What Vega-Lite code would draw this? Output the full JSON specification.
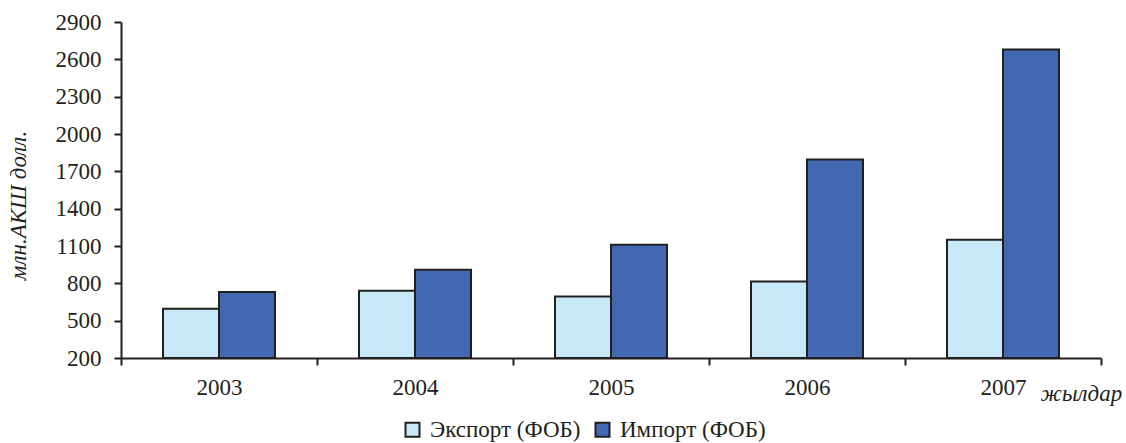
{
  "$schema": "https://vega.github.io/schema/vega-lite/v6.json",
  "autosize": "none",
  "width": 980,
  "height": 336,
  "padding": {"left": 121, "top": 22, "right": 25, "bottom": 85},
  "background": "white",
  "config": {
    "view": {"stroke": null},
    "font": "Liberation Serif",
    "axis": {"domainColor": "#231f20", "tickColor": "#231f20", "domainWidth": 2, "tickWidth": 2, "labelColor": "#231f20", "titleColor": "#231f20", "labelFont": "Liberation Serif", "titleFont": "Liberation Serif", "labelFontSize": 23, "titleFontSize": 23, "titleFontWeight": "normal", "grid": false}
  },
  "data": {
    "values": [
      {"year": "2003", "series": "Экспорт (ФОБ)", "value": 595},
      {"year": "2003", "series": "Импорт (ФОБ)", "value": 730},
      {"year": "2004", "series": "Экспорт (ФОБ)", "value": 740},
      {"year": "2004", "series": "Импорт (ФОБ)", "value": 910},
      {"year": "2005", "series": "Экспорт (ФОБ)", "value": 695},
      {"year": "2005", "series": "Импорт (ФОБ)", "value": 1110},
      {"year": "2006", "series": "Экспорт (ФОБ)", "value": 815},
      {"year": "2006", "series": "Импорт (ФОБ)", "value": 1795},
      {"year": "2007", "series": "Экспорт (ФОБ)", "value": 1150},
      {"year": "2007", "series": "Импорт (ФОБ)", "value": 2680}
    ]
  },
  "mark": {"type": "bar", "stroke": "#231f20", "strokeWidth": 2},
  "encoding": {
    "x": {
      "field": "year", "type": "ordinal",
      "scale": {"paddingInner": 0, "paddingOuter": 0},
      "axis": {"labelAngle": 0, "tickBand": "extent", "tickSize": 7, "labelPadding": 11, "title": "жылдар", "titleFontStyle": "italic", "titleAlign": "left", "titleAnchor": "start", "titleX": 919, "titleY": 24, "titleBaseline": "top"}
    },
    "xOffset": {
      "field": "series", "type": "nominal",
      "sort": ["Экспорт (ФОБ)", "Импорт (ФОБ)"],
      "scale": {"paddingInner": 0, "paddingOuter": 0.75}
    },
    "y": {
      "field": "value", "type": "quantitative",
      "scale": {"domain": [200, 2900], "nice": false, "zero": false},
      "axis": {"values": [200, 500, 800, 1100, 1400, 1700, 2000, 2300, 2600, 2900], "format": "d", "tickSize": 7, "labelPadding": 13, "title": "млн.АКШ долл.", "titleFontStyle": "italic", "titleX": -103, "titleY": 183, "titleAnchor": "middle", "titleAlign": "center", "titleBaseline": "middle"}
    },
    "y2": {"datum": 200},
    "color": {
      "field": "series", "type": "nominal",
      "sort": ["Экспорт (ФОБ)", "Импорт (ФОБ)"],
      "scale": {"domain": ["Экспорт (ФОБ)", "Импорт (ФОБ)"], "range": ["#c6e8f7", "#4168b0"]},
      "legend": {"title": null, "orient": "none", "direction": "horizontal", "legendX": 280, "legendY": 396, "padding": 0, "symbolType": "square", "symbolSize": 196, "symbolStrokeColor": "#231f20", "symbolStrokeWidth": 2, "symbolOpacity": 1, "labelFont": "Liberation Serif", "labelFontSize": 23, "labelColor": "#231f20", "labelOffset": 6, "columnPadding": 10}
    }
  }
}
